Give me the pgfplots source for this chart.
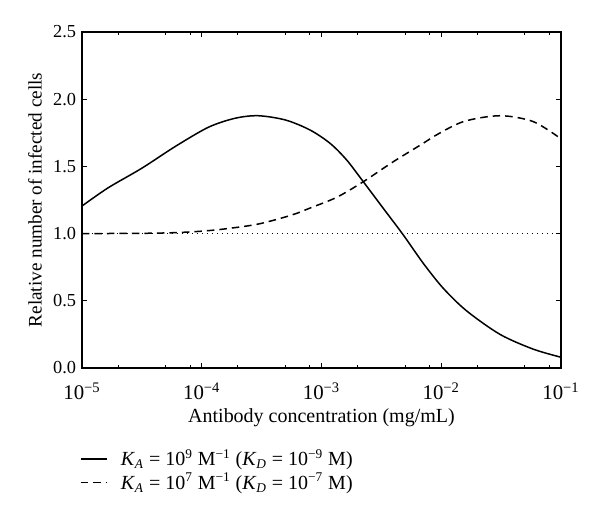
\documentclass[border=0pt]{standalone}
\usepackage{fontspec}
\setmainfont{Liberation Serif}
\usepackage{pgfplots}
\pgfplotsset{compat=1.18}
\begin{document}
\begin{tikzpicture}[x=0.6pt,y=0.6pt]
\useasboundingbox (0,0) rectangle (600,517);
\begin{axis}[
    at={(49.2pt,89.4pt)}, anchor=south west,
    scale only axis,
    width=287.4pt, height=201.6pt,
    xmode=log,
    xmin=1e-5, xmax=1e-1,
    ymin=0, ymax=2.5,
    xtick={1e-5,1e-4,1e-3,1e-2,1e-1},
    xticklabels={10\textsuperscript{\textminus5},10\textsuperscript{\textminus4},10\textsuperscript{\textminus3},10\textsuperscript{\textminus2},10\textsuperscript{\textminus1}},
    minor xtick={2e-5,5e-5,8e-5,2e-4,5e-4,8e-4,2e-3,5e-3,8e-3,2e-2,5e-2,8e-2},
    ytick={0,0.5,1,1.5,2,2.5},
    yticklabel style={font=\fontsize{11}{13}\selectfont,
        /pgf/number format/.cd,fixed,fixed zerofill,precision=1},
    /pgf/number format/assume math mode=true,
    tick align=inside,
    major tick length=3pt,
    minor tick length=1.8pt,
    tick style={black, line width=0.6pt},
    axis line style={line width=0.8pt},
    xticklabel style={font=\fontsize{12.5}{14}\selectfont, yshift=-5.5pt},
    xlabel={Antibody concentration (mg/mL)},
    ylabel={Relative number of infected cells},
    xlabel style={font=\fontsize{12}{14}\selectfont, yshift=1.5pt},
    ylabel style={font=\fontsize{11.5}{13}\selectfont, yshift=0pt},
    legend style={at={(axis description cs:-0.005,-0.232)}, anchor=north west, draw=none,
        font=\fontsize{12}{14}\selectfont, row sep=-1pt, inner sep=0pt},
    legend cell align=left,
    legend image code/.code={\draw[#1] (0cm,0cm) -- (0.55cm,0cm); \path (0.76cm,0cm);},
]
\addplot[black, line width=0.9pt, smooth] coordinates {
    (1e-5,1.205)(1.648e-5,1.34)(3.155e-5,1.486)(5.98e-5,1.647)(1.135e-4,1.791)
    (1.897e-4,1.858)(2.965e-4,1.877)(5.012e-4,1.845)(8.017e-4,1.771)(1.178e-3,1.672)
    (1.622e-3,1.548)(2.234e-3,1.386)(3.281e-3,1.188)(4.82e-3,0.99)(7.079e-3,0.779)
    (1.04e-2,0.593)(1.629e-2,0.425)(3.097e-2,0.25)(5.875e-2,0.14)(1e-1,0.08)
};
\addlegendentry{\textit{K}\textsubscript{\textit{A}} = 10\textsuperscript{9} M\textsuperscript{\textminus1} (\textit{K}\textsubscript{\textit{D}} = 10\textsuperscript{\textminus9} M)}
\addplot[black, line width=0.9pt, smooth, dash pattern=on 4.5pt off 3pt] coordinates {
    (1e-5,1.0)(3.162e-5,1.002)(5.98e-5,1.007)(1e-4,1.018)(1.563e-4,1.035)(2.965e-4,1.071)
    (5.64e-4,1.138)(8.017e-4,1.19)(1.34e-3,1.27)(2.234e-3,1.386)(3.981e-3,1.535)
    (7.079e-3,1.672)(8.59e-3,1.721)(1.528e-2,1.833)(3.097e-2,1.877)(5.875e-2,1.833)(1e-1,1.705)
};
\addlegendentry{\textit{K}\textsubscript{\textit{A}} = 10\textsuperscript{7} M\textsuperscript{\textminus1} (\textit{K}\textsubscript{\textit{D}} = 10\textsuperscript{\textminus7} M)}
\addplot[black, line width=0.7pt, dash pattern=on 0.7pt off 2.3pt, forget plot] coordinates {
    (1e-5,1)(1e-1,1)
};
\end{axis}
\end{tikzpicture}
\end{document}
